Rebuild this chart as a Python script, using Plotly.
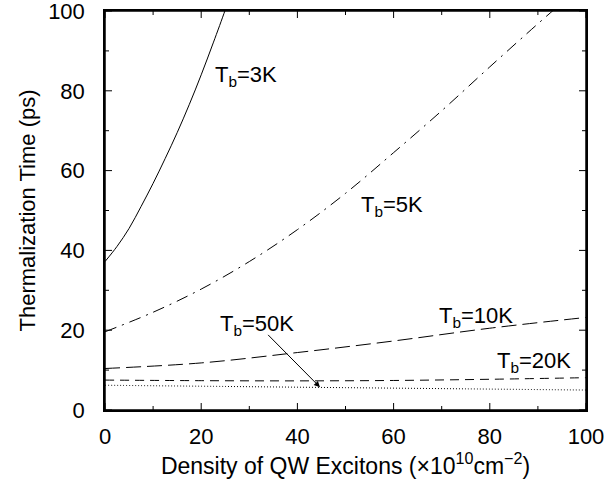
import plotly.graph_objects as go

# Density of QW excitons (x 1e10 cm^-2)
x_3K = [0, 2.5, 5, 7.5, 10, 12.5, 15, 17.5, 20, 22.5, 25, 26]
t_3K = [37.2, 41, 45.5, 51, 56.8, 63, 69.5, 76.5, 84, 92, 100.3, 104]

x_5K = [0, 10, 20, 30, 40, 50, 60, 70, 80, 90, 94, 96]
t_5K = [19.6, 24.5, 30.3, 37.2, 45.2, 54.3, 64.5, 75, 86, 96.8, 101, 103]

x_10K = [0, 20, 40, 60, 80, 100]
t_10K = [10.4, 11.8, 14.4, 17.3, 20.5, 23.2]

x_20K = [0, 20, 40, 60, 80, 100]
t_20K = [7.5, 7.35, 7.3, 7.4, 7.7, 8.1]

x_50K = [0, 25, 50, 75, 100]
t_50K = [6.2, 5.9, 5.6, 5.3, 5.0]

# axis ticks
axis_range = [0, 100]
major_ticks = [0, 20, 40, 60, 80, 100]
minor_ticks = [10, 30, 50, 70, 90]

FONT = "Liberation Sans, Arial, sans-serif"
FS = 22

fig = go.Figure()
line_specs = [
    (x_3K, t_3K, "solid"),
    (x_5K, t_5K, "12px,6px,2px,6px"),
    (x_10K, t_10K, "15px,6px"),
    (x_20K, t_20K, "9px,6px"),
    (x_50K, t_50K, "1px,2px"),
]
for xs, ys, dash in line_specs:
    fig.add_trace(go.Scatter(x=xs, y=ys, mode="lines", line_shape="spline",
                             line=dict(color="black", width=1, dash=dash),
                             showlegend=False, hoverinfo="skip"))

# frame and inward ticks on all four sides, built from the axis range and tick lists
lo, hi = axis_range
fx = [lo, hi, hi, lo, lo]
fy = [lo, lo, hi, hi, lo]
fig.add_trace(go.Scatter(x=fx, y=fy, mode="lines", cliponaxis=False,
                         line=dict(color="black", width=1.5),
                         showlegend=False, hoverinfo="skip"))

X_UNIT_PX = 4.81  # pixels per x unit
Y_UNIT_PX = 3.99  # pixels per y unit
tx, ty = [], []
for vals, length in ((major_ticks, 7), (minor_ticks, 4)):
    ly = length / Y_UNIT_PX
    lx = length / X_UNIT_PX
    for v in vals:
        # bottom and top ticks on x
        tx += [v, v, None, v, v, None]
        ty += [lo, lo + ly, None, hi, hi - ly, None]
        # left and right ticks on y
        tx += [lo, lo + lx, None, hi, hi - lx, None]
        ty += [v, v, None, v, v, None]
fig.add_trace(go.Scatter(x=tx, y=ty, mode="lines", cliponaxis=False,
                         line=dict(color="black", width=1),
                         showlegend=False, hoverinfo="skip"))

labels = [
    ("T<sub>b</sub>=3K", 29.4, 83.7),
    ("T<sub>b</sub>=5K", 59.6, 51.1),
    ("T<sub>b</sub>=10K", 77.1, 23.3),
    ("T<sub>b</sub>=20K", 89.2, 12.0),
    ("T<sub>b</sub>=50K", 31.7, 21.3),
]
for txt, lxp, lyp in labels:
    fig.add_annotation(x=lxp, y=lyp, text=txt, showarrow=False,
                       font=dict(family=FONT, size=FS, color="black"))

# arrow for 50K
fig.add_annotation(x=44.7, y=5.7, ax=33.6, ay=19.2, axref="x", ayref="y",
                   text="", showarrow=True, arrowhead=2, arrowsize=1.2,
                   arrowwidth=1, arrowcolor="black")

base = dict(
    range=axis_range, tickmode="array", tickvals=major_ticks,
    showline=True, linecolor="black", linewidth=1.5, mirror=True,
    ticks="", showgrid=False, zeroline=False, automargin=False,
    ticklabeloverflow="allow",
    tickfont=dict(family=FONT, size=FS, color="black"),
)

fig.update_layout(
    xaxis=dict(title=dict(text="Density of QW Excitons (×10<sup>10</sup>cm<sup>−2</sup>)",
                          font=dict(family=FONT, size=23, color="black"), standoff=6),
               ticklabelstandoff=6, **base),
    yaxis=dict(title=dict(text="Thermalization Time (ps)",
                          font=dict(family=FONT, size=FS, color="black"), standoff=6),
               ticklabelstandoff=14, **base),
    width=608, height=481,
    margin=dict(l=105, r=22, t=11, b=71),
    plot_bgcolor="white", paper_bgcolor="white",
)

fig.write_html("out.html", config={"displayModeBar": False},
               post_script="document.body.style.margin='0';")
